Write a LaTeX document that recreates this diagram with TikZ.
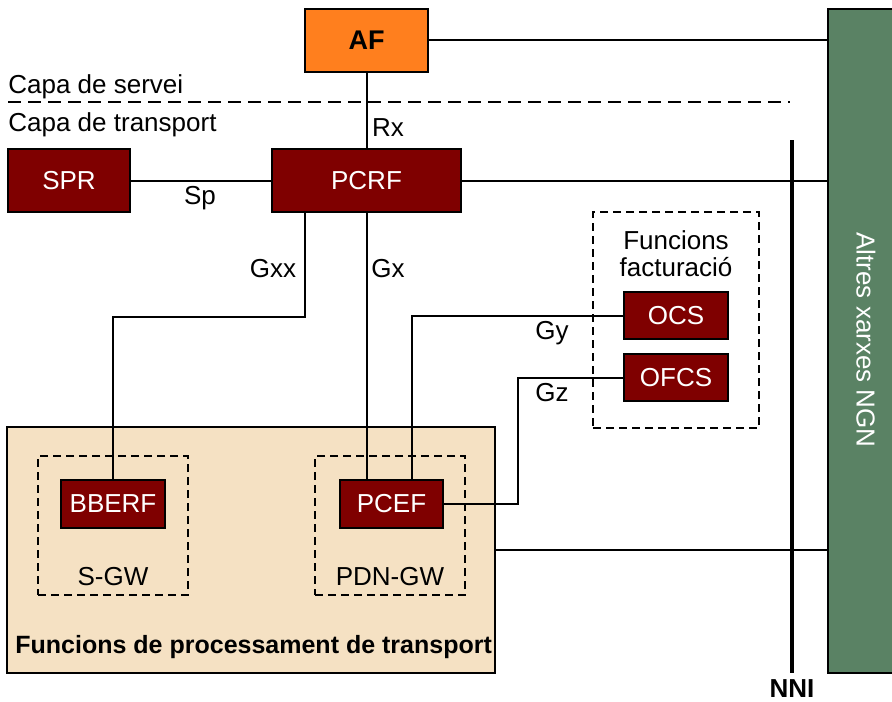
\documentclass[tikz,border=0pt]{standalone}
\usepackage{fontspec}
\setmainfont{Liberation Sans}
\usetikzlibrary{calc}
\definecolor{dred}{HTML}{7F0000}
\definecolor{aforange}{HTML}{FF7F1E}
\definecolor{ngngreen}{HTML}{5A8264}
\definecolor{beige}{HTML}{F5E1C3}
\tikzset{
  box/.style={draw=black, line width=1pt, fill=dred, text=white, inner sep=0pt, font=\fontsize{13}{14}\selectfont},
  dbox/.style={draw=black, line width=0.8pt, dash pattern=on 4pt off 2.5pt, inner sep=0pt},
  conn/.style={line width=1pt},
  lbl/.style={font=\fontsize{13}{14}\selectfont, inner sep=0pt},
}
\begin{document}
\begin{tikzpicture}[x=0.5pt,y=-0.5pt]
\useasboundingbox (0,0) rectangle (892,701);
% big containers
\node[draw=black, line width=1pt, fill=beige, minimum width=244pt, minimum height=123pt, inner sep=0pt] (tpf) at (251,550) {};
\node[draw=black, line width=1pt, fill=ngngreen, minimum width=36pt, minimum height=332pt, inner sep=0pt] (ngn) at (864,341) {};
\node[text=white, rotate=-90, font=\fontsize{13}{15}\selectfont, inner sep=0pt] (ngnl) at (866,340) {Altres xarxes NGN};
\node[dbox, minimum width=83pt, minimum height=108pt] (bill) at (676,320) {};
\node[dbox, minimum width=75pt, minimum height=69.5pt] (sgw) at (113,525.5) {};
\node[dbox, minimum width=75pt, minimum height=69.5pt] (pdngw) at (390,525.5) {};
% function boxes
\node[box, fill=aforange, text=black, minimum width=61.5pt, minimum height=31.5pt, font=\fontsize{13.5}{15}\selectfont\bfseries] (AF) at (366.5,40.5) {AF};
\node[box, minimum width=61pt, minimum height=31.5pt] (SPR) at (69,180.5) {SPR};
\node[box, minimum width=94.5pt, minimum height=31.5pt] (PCRF) at (366.5,180.5) {PCRF};
\node[box, minimum width=52pt, minimum height=23.5pt] (OCS) at (676,315.5) {OCS};
\node[box, minimum width=52pt, minimum height=23.5pt] (OFCS) at (676,377.5) {OFCS};
\node[box, minimum width=52pt, minimum height=24pt] (BBERF) at (113,504) {BBERF};
\node[box, minimum width=51.5pt, minimum height=24pt] (PCEF) at (391.5,504) {PCEF};
% layer texts
\node[lbl, anchor=base west] (servei) at (8,94) {Capa de servei};
\node[lbl, anchor=base west] (transp) at (8,131) {Capa de transport};
\coordinate (dashL) at (8,102);
\coordinate (dashR) at (790,102);
\draw[line width=1pt, dash pattern=on 6.5pt off 3.5pt] (dashL) -- (dashR);
% NNI
\coordinate (nniT) at (792,140);
\coordinate (nniB) at (792,673);
\draw[line width=2pt] (nniT) -- (nniB);
\node[lbl, anchor=base, font=\fontsize{13}{14}\selectfont\bfseries] (nni) at (792,697) {NNI};
% texts
\node[lbl, align=center] (billl) at (676,254) {Funcions\\[-0.5pt]facturació};
\node[lbl, anchor=base] (sgwl) at (113,585) {S-GW};
\node[lbl, anchor=base] (pdnl) at (390,585) {PDN-GW};
\node[lbl, anchor=base west, font=\fontsize{12.5}{14}\selectfont\bfseries] (tpfl) at (15,653) {Funcions de processament de transport};
% connectors
\draw[conn] (AF.east) -- (AF.east -| ngn.west);
\draw[conn] (AF.south) -- (PCRF.north);
\draw[conn] (SPR.east) -- (PCRF.west);
\draw[conn] (PCRF.east) -- (PCRF.east -| ngn.west);
\draw[conn] (tpf.east) -- (tpf.east -| ngn.west);
\draw[conn] (PCRF.south west) ++(34,0) -- ++(0,104) -| (BBERF.north);
\draw[conn] (PCRF.south) -- (PCRF.south |- PCEF.north);
\coordinate (gyx) at (412,0);
\draw[conn] (OCS.west) -| (gyx |- PCEF.north);
\coordinate (gzx) at (518,0);
\draw[conn] (OFCS.west) -| (gzx |- PCEF.east) -- (PCEF.east);
% interface labels
\node[lbl] (rx) at (388,128) {Rx};
\node[lbl] (sp) at (200,198) {Sp};
\node[lbl] (gxx) at (273,269) {Gxx};
\node[lbl] (gx) at (388,269) {Gx};
\node[lbl] (gy) at (552,333) {Gy};
\node[lbl] (gz) at (552,393) {Gz};
\end{tikzpicture}
\end{document}
